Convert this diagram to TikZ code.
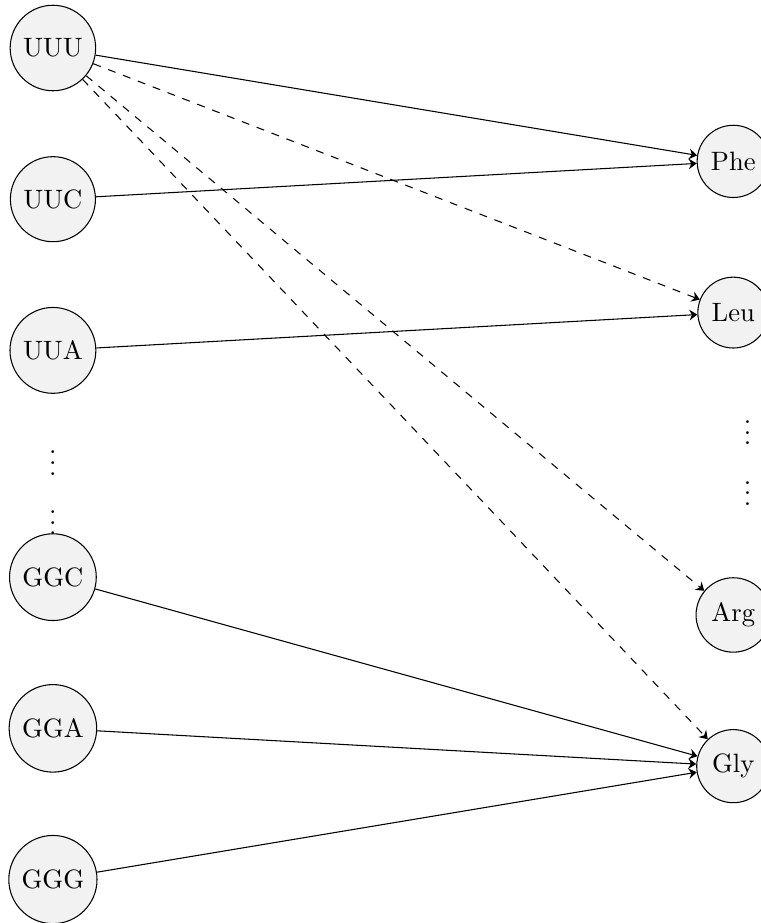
\documentclass[tikz,border=0pt]{standalone}
\usepackage{amsmath,amssymb}
\usepackage{xcolor}
\usetikzlibrary{arrows.meta}

\begin{document}
\begin{tikzpicture}[codon/.style={circle,draw,fill=gray!10},
  >={Stealth[length=3pt,width=4pt,inset=1pt]}]
\useasboundingbox (-0.70,0.635) rectangle (9.365,-11.575);
\foreach \c/\y in {UUU/0,UUC/2,UUA/4,GGC/7,GGA/9,GGG/11}
  \node[codon] (\c) at (0,-\y) {\c};
\foreach \a/\y in {Phe/1.5,Leu/3.5,Arg/7.5,Gly/9.5}
  \node[codon] (\a) at (9,-\y) {\a};
\node (ldotsA) at (0,-5.385) {$\vdots$};
\node (ldotsB) at (0,-6.175) {$\vdots$};
\node (rdotsA) at (9.19,-4.985) {$\vdots$};
\node (rdotsB) at (9.19,-5.785) {$\vdots$};
\draw[->] (UUU) -- (Phe);
\draw[->] (UUC) -- (Phe);
\draw[->] (UUA) -- (Leu);
\draw[->] (GGC) -- (Gly);
\draw[->] (GGA) -- (Gly);
\draw[->] (GGG) -- (Gly);
\foreach \a in {Leu,Arg,Gly}
  \draw[->,dashed] (UUU) -- (\a);
\end{tikzpicture}
\end{document}
